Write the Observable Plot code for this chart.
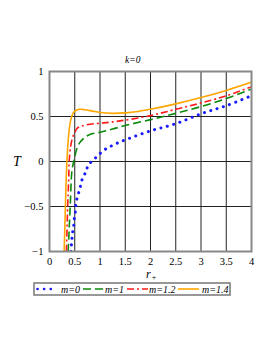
<!DOCTYPE html>
<html>
<head>
<meta charset="utf-8">
<script src="https://cdn.jsdelivr.net/npm/d3@7"></script>
<script src="https://cdn.jsdelivr.net/npm/@observablehq/plot@0.6"></script>
<style>
  html, body { margin: 0; padding: 0; background: #fff; }
  #wrap { position: relative; width: 273px; height: 353px; font-family: "Liberation Serif", serif; }
  #chart svg, #chart svg text { font-family: "Liberation Serif", serif !important; }
  .lab { position: absolute; font-style: italic; color: #000; white-space: nowrap; line-height: 1; }
  #legend { position: absolute; left: 0; top: 0; }
</style>
</head>
<body>
<div id="wrap">
  <div id="chart"></div>
  <div class="lab" style="left:125px; top:56px; font-size:9.5px;">k=0</div>
  <div class="lab" style="left:13px; top:155px; font-size:14px;">T</div>
  <div class="lab" style="left:146px; top:268px; font-size:12px;">r<span style="font-size:8px; position:relative; top:2px; font-style:normal; margin-left:1px;">+</span></div>
  <div id="legend"></div>
</div>
<script>
const seriesNames = ["m=0", "m=1", "m=1.2", "m=1.4"];
const seriesColors = ["#1a1aff", "#0a8a0a", "#ff1a1a", "#ffa500"];
const seriesDash = ["0.1 6.5", "8 4", "7 3 2 3", null];

const r_m0 = [0.425,0.445,0.46,0.48,0.49,0.51,0.52,0.54,0.576,0.61,0.64,0.695,0.73,0.79,0.91,1.09,1.27,1.5,2.0,2.5,3.0,3.5,4.0];
const T_m0 = [-1,-0.86,-0.78,-0.71,-0.64,-0.57,-0.49,-0.42,-0.35,-0.28,-0.21,-0.144,-0.09,-0.026,0.04,0.13,0.185,0.24,0.34,0.42,0.53,0.62,0.73];

const r_m1 = [0.37,0.41,0.445,0.48,0.5,0.54,0.6,0.68,0.8,1.0,1.25,1.5,2.0,2.5,3.0,3.5,4.0];
const T_m1 = [-1,-0.5,-0.1,0,0.05,0.14,0.21,0.26,0.3,0.325,0.36,0.40,0.465,0.535,0.61,0.70,0.805];

const r_m12 = [0.335,0.36,0.38,0.39,0.42,0.46,0.5,0.55,0.62,0.75,1.0,1.25,1.5,2.0,2.5,3.0,3.5,4.0];
const T_m12 = [-1,-0.5,-0.2,0,0.17,0.27,0.32,0.37,0.39,0.41,0.425,0.44,0.46,0.51,0.58,0.65,0.73,0.83];

const r_m14 = [0.29,0.31,0.33,0.35,0.38,0.42,0.47,0.53,0.6,0.7,0.85,1.0,1.25,1.5,1.75,2.0,2.5,3.0,3.5,4.0];
const T_m14 = [-1,-0.6,-0.2,0.05,0.3,0.46,0.54,0.57,0.58,0.575,0.56,0.545,0.535,0.54,0.555,0.58,0.64,0.71,0.79,0.88];

const xTicks = [0,0.5,1,1.5,2,2.5,3,3.5,4];
const yTicks = [-1,-0.5,0,0.5,1];

const rs = [r_m0, r_m1, r_m12, r_m14];
const Ts = [T_m0, T_m1, T_m12, T_m14];
const series = rs.map((r, i) => r.map((x, j) => ({x, y: Ts[i][j]})));

const lineMarks = series.map((d, i) => Plot.line(d, {
  x: "x", y: "y", curve: "catmull-rom", clip: true,
  stroke: seriesColors[i],
  strokeWidth: i === 0 ? 3 : 1.6,
  strokeDasharray: seriesDash[i] || undefined,
  strokeLinecap: i === 0 ? "round" : "butt"
}));

const plot = Plot.plot({
  width: 273, height: 280,
  marginLeft: 49, marginRight: 22, marginTop: 71, marginBottom: 29,
  style: { fontFamily: "'Liberation Serif', serif", fontSize: "10.5px", background: "transparent", color: "#000" },
  x: { domain: [0, 4], label: null },
  y: { domain: [-1, 1], label: null },
  marks: [
    Plot.ruleX(xTicks, { stroke: "#222", strokeWidth: 1 }),
    Plot.ruleY(yTicks, { stroke: "#222", strokeWidth: 1 }),
    ...lineMarks,
    Plot.frame({ stroke: "#888", strokeWidth: 2 }),
    Plot.axisX({ ticks: xTicks, tickSize: 0, tickPadding: 6, label: null, tickFormat: d3.format("") }),
    Plot.axisY({ ticks: yTicks, tickSize: 0, tickPadding: 6, label: null, tickFormat: d3.format("") })
  ]
});
document.getElementById("chart").appendChild(plot);

// legend: box with key samples and labels
const keyX = [36, 83, 127, 178];
const textX = [61, 105, 149, 202];
const lg = d3.create("svg").attr("width", 273).attr("height", 353);
lg.append("rect").attr("x", 34).attr("y", 283).attr("width", 196).attr("height", 12)
  .attr("fill", "none").attr("stroke", "#777").attr("stroke-width", 1.5);
seriesNames.forEach((name, i) => {
  lg.append("line").attr("x1", keyX[i] + (i === 0 ? 1.5 : 0)).attr("x2", keyX[i] + 21).attr("y1", 289).attr("y2", 289)
    .attr("stroke", seriesColors[i]).attr("stroke-width", i === 0 ? 2.6 : 1.6)
    .attr("stroke-dasharray", seriesDash[i] || null)
    .attr("stroke-linecap", i === 0 ? "round" : "butt");
  lg.append("text").attr("x", textX[i]).attr("y", 292.5)
    .attr("font-family", "'Liberation Serif', serif").attr("font-style", "italic").attr("font-size", 10)
    .text(name);
});
document.getElementById("legend").appendChild(lg.node());
</script>
</body>
</html>
